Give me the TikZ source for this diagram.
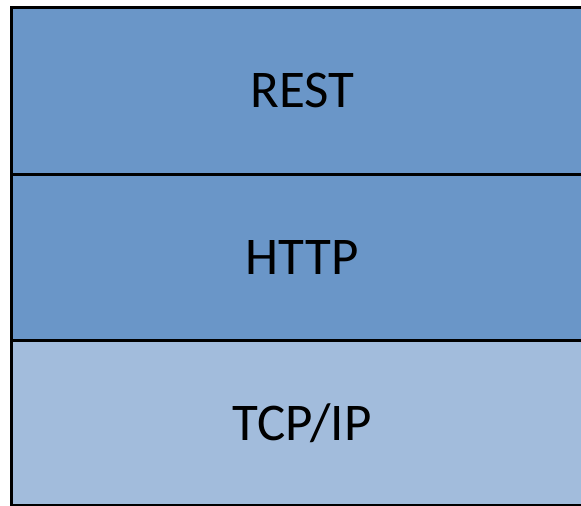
\documentclass[tikz,border=0pt]{standalone}
\usepackage{fontspec}
\setmainfont{Carlito}
\definecolor{layerdark}{HTML}{6A96C8}
\definecolor{layerlight}{HTML}{A2BCDC}
\begin{document}
\begin{tikzpicture}[x=1pt,y=-1pt,
  layer/.style={draw=black, line width=2.6pt, minimum width=582pt, anchor=north west,
    inner sep=0pt, text=black, font=\fontsize{53}{58}\selectfont}]
  \useasboundingbox (0,0) rectangle (581,506);
  \clip (0,0) rectangle (581,506);
  % protocol stack, top to bottom; the right side runs past the page edge
  \node[layer, fill=layerdark, minimum height=167pt] (rest) at (10,6) {REST};
  \node[layer, fill=layerdark, minimum height=166pt] (http) at (10,173) {HTTP};
  \node[layer, fill=layerlight, minimum height=165pt] (tcp) at (10,339) {TCP/IP};
\end{tikzpicture}
\end{document}
